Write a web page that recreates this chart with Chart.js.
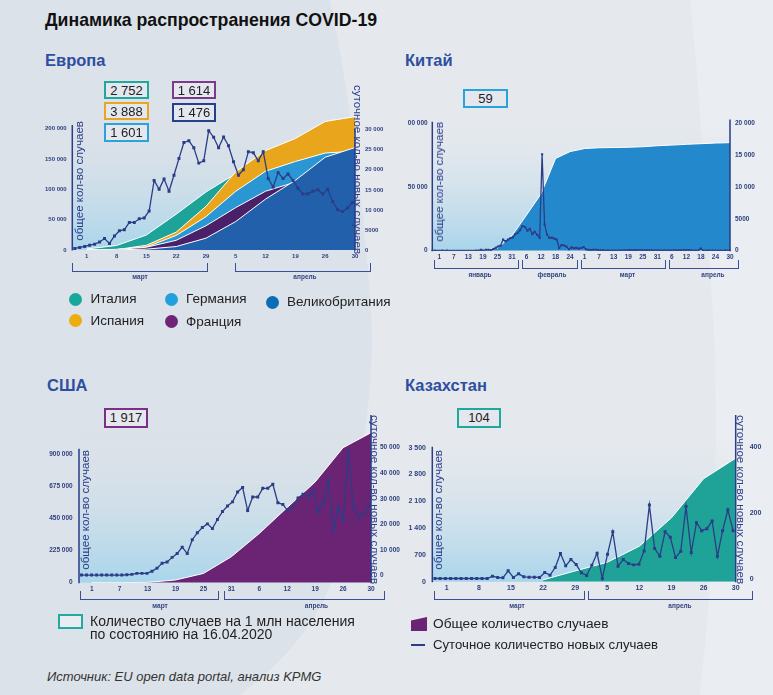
<!DOCTYPE html>
<html><head><meta charset="utf-8">
<script src="https://cdn.jsdelivr.net/npm/chart.js@4.4.1/dist/chart.umd.min.js"></script>
<style>
html,body{margin:0;padding:0}
body{width:773px;height:695px;overflow:hidden;background:#dce2e9;position:relative;font-family:"Liberation Sans",Arial,sans-serif}
.a{position:absolute}
.t{position:absolute;white-space:nowrap;line-height:1}
.h{font-weight:bold;font-size:16.5px;color:#2f4e9f}
.box{position:absolute;box-sizing:border-box;border:2px solid;background:#e4e8ee;font-size:13px;color:#222;text-align:center;line-height:15px}
.ttl{position:absolute;writing-mode:vertical-rl;font-size:11.6px;line-height:12px;width:12px;color:#2b3d8a;white-space:nowrap}
.up{transform:rotate(180deg)}
.br{position:absolute;box-sizing:border-box;border:1.5px solid #3c4f95;border-top:none}
.mo{position:absolute;font-size:6.5px;font-weight:bold;color:#34457f;line-height:1;white-space:nowrap;transform:translateX(-50%)}
.dot{position:absolute;width:13px;height:13px;border-radius:50%}
.lg{position:absolute;font-size:13.5px;color:#222;line-height:1;white-space:nowrap}
canvas{position:absolute}
</style></head>
<body>
<svg class="a" style="left:0;top:0" width="773" height="695">
  <path d="M330,0 L773,0 L773,695 L240,695 C300,650 335,600 350,520 C362,460 372,400 372,330 C368,250 355,120 330,0 Z" fill="#e5e9ee"/>
  <path d="M690,0 L773,0 L773,695 L700,695 C715,560 720,420 712,300 C705,200 700,90 690,0 Z" fill="#eaedf1"/>
</svg>

<div class="t" style="left:45px;top:11.5px;font-size:17.7px;font-weight:bold;color:#111">Динамика распространения COVID-19</div>
<div class="t h" style="left:45px;top:52px">Европа</div>
<div class="t h" style="left:405px;top:52px">Китай</div>
<div class="t h" style="left:47px;top:377px">США</div>
<div class="t h" style="left:405px;top:377px">Казахстан</div>

<canvas id="eu" width="360" height="170" style="left:40px;top:100px"></canvas>
<canvas id="cn" width="375" height="160" style="left:395px;top:110px"></canvas>
<canvas id="us" width="360" height="190" style="left:40px;top:410px"></canvas>
<canvas id="kz" width="378" height="190" style="left:395px;top:410px"></canvas>

<!-- value boxes -->
<div class="box" style="left:104px;top:81px;width:45px;height:18px;border-color:#21a89c">2 752</div>
<div class="box" style="left:104px;top:101.5px;width:45px;height:18.5px;border-color:#e8a623">3 888</div>
<div class="box" style="left:104px;top:122.5px;width:45px;height:19px;border-color:#2aa3dd">1 601</div>
<div class="box" style="left:172px;top:81px;width:44px;height:18px;border-color:#7b3a8c">1 614</div>
<div class="box" style="left:172px;top:102.5px;width:44px;height:19px;border-color:#24418f">1 476</div>
<div class="box" style="left:463px;top:89px;width:45px;height:19px;border-color:#2aa3dd">59</div>
<div class="box" style="left:104px;top:408px;width:44px;height:19.5px;border-color:#7b2f86">1 917</div>
<div class="box" style="left:457px;top:408px;width:44px;height:20px;border-color:#21a89c">104</div>

<!-- axis titles -->
<div class="ttl up" style="left:73px;top:121px">общее кол-во случаев</div>
<div class="ttl" style="left:352px;top:85px">суточное кол-во новых случаев</div>
<div class="ttl up" style="left:433px;top:122px">общее кол-во случаев</div>
<div class="ttl up" style="left:79px;top:450px">общее кол-во случаев</div>
<div class="ttl" style="left:369px;top:415px">суточное кол-во новых случаев</div>
<div class="ttl up" style="left:432px;top:450px">общее кол-во случаев</div>
<div class="ttl" style="left:734.5px;top:415px">суточное кол-во новых случаев</div>

<!-- month brackets -->
<div class="br" style="left:72px;top:263px;width:136px;height:9px"></div>
<div class="br" style="left:235px;top:263px;width:136px;height:9px"></div>
<div class="mo" style="left:140px;top:274px">март</div>
<div class="mo" style="left:305px;top:274px">апрель</div>

<div class="br" style="left:434px;top:260px;width:85px;height:8.5px"></div>
<div class="br" style="left:521.5px;top:260px;width:56.5px;height:8.5px"></div>
<div class="br" style="left:581px;top:260px;width:85px;height:8.5px"></div>
<div class="br" style="left:669px;top:260px;width:70px;height:8.5px"></div>
<div class="mo" style="left:480px;top:272px">январь</div>
<div class="mo" style="left:552px;top:272px">февраль</div>
<div class="mo" style="left:627.5px;top:272px">март</div>
<div class="mo" style="left:713px;top:272px">апрель</div>

<div class="br" style="left:80px;top:590.5px;width:138.5px;height:9px"></div>
<div class="br" style="left:224px;top:590.5px;width:161px;height:9px"></div>
<div class="mo" style="left:160px;top:603px">март</div>
<div class="mo" style="left:316.5px;top:603px">апрель</div>

<div class="br" style="left:434px;top:590.5px;width:150.5px;height:9px"></div>
<div class="br" style="left:588px;top:590.5px;width:164.5px;height:9px"></div>
<div class="mo" style="left:517px;top:603px">март</div>
<div class="mo" style="left:680px;top:603px">апрель</div>

<!-- Europe legend -->
<div class="dot" style="left:68.5px;top:292.5px;background:#17a899"></div>
<div class="lg" style="left:90.5px;top:292px">Италия</div>
<div class="dot" style="left:68.5px;top:314px;background:#eead0f"></div>
<div class="lg" style="left:90.5px;top:314px">Испания</div>
<div class="dot" style="left:165px;top:292.5px;background:#22a0dd"></div>
<div class="lg" style="left:186px;top:292px">Германия</div>
<div class="dot" style="left:165px;top:315px;background:#6e2479"></div>
<div class="lg" style="left:186px;top:315px">Франция</div>
<div class="dot" style="left:266px;top:295.5px;background:#0b6db5"></div>
<div class="lg" style="left:287px;top:295px">Великобритания</div>

<!-- bottom legends -->
<div class="a" style="left:58px;top:614px;width:25px;height:15px;box-sizing:border-box;border:2px solid #22aa9e;background:#e9edf2"></div>
<div class="lg" style="left:90px;top:614px;font-size:14px">Количество случаев на 1 млн населения</div>
<div class="lg" style="left:90px;top:627px;font-size:14px">по состоянию на 16.04.2020</div>
<div class="a" style="left:411px;top:617px;width:16px;height:14px;background:#6b2475;clip-path:polygon(0 25%,100% 0,100% 100%,0 100%)"></div>
<div class="lg" style="left:433px;top:617px;font-size:13.7px">Общее количество случаев</div>
<div class="a" style="left:411px;top:644px;width:14px;height:2px;background:#2b3f86"></div>
<div class="lg" style="left:433px;top:638px;font-size:13.2px">Суточное количество новых случаев</div>
<div class="lg" style="left:47px;top:670px;font-size:13px;font-style:italic;color:#333">Источник: EU open data portal, анализ KPMG</div>

<script>
// ===================== DATA =====================
// Европа: x-axis tick labels (weekly), totals sampled at those ticks, daily new cases
const euTickLabels = ['1','8','15','22','29','5','12','19','26','30'];
const euLeftTicks = [0, 50000, 100000, 150000, 200000];
const euLeftLabels = ['0','50 000','100 000','150 000','200 000'];
const euRightTicks = [0, 5000, 10000, 15000, 20000, 25000, 30000];
const euRightLabels = ['0','5000','10 000','15 000','20 000','25 000','30 000'];
const euItaly   = [1700, 7400, 24700, 59100, 95700, 126000, 156000, 175000, 195000, 203000];
const euSpain   = [100, 600, 7800, 29500, 72000, 129000, 164000, 184000, 212000, 220000];
const euGermany = [100, 900, 5000, 24000, 55000, 97000, 130000, 146000, 160000, 163000];
const euFrance  = [100, 1100, 4500, 16000, 40000, 70000, 97000, 112000, 124000, 129000];
const euUK      = [40, 300, 1400, 5700, 19500, 47000, 84000, 115000, 153000, 169000];
const euDaily = [400,650,900,1200,1450,2000,2850,1640,3500,4800,
  5070,6870,6870,7770,8000,9730,17340,15130,17740,14640,
  18640,22800,26820,27230,25510,21670,22240,29760,28130,25510,
  28210,26000,22000,18640,20040,24530,24280,22240,24530,17830,
  15700,19300,17830,18960,17340,15380,13980,14050,14640,15040,
  13980,15130,12090,10060,9570,10470,11850];

// Китай: ticks every 6 days (Jan 1 .. Apr 30), totals at ticks, daily from Dec 29 to Apr 30
const cnTickLabels = ['1','7','13','19','25','31','6','12','18','24','1','7','13','19','25','31','6','12','18','24','30'];
const cnLeftTicks = [0, 50000, 100000];
const cnLeftLabels = ['0','50 000','00 000'];
const cnRightTicks = [0, 5000, 10000, 15000, 20000];
const cnRightLabels = ['0','5000','10 000','15 000','20 000'];
const cnTotal = [null,null,null,200,2000,11800,28000,44600,72400,77800,80200,80800,81000,81200,81600,82400,82900,83500,84000,84500,84800];
const cnDaily = [0,27,0,
  0,17,0,15,0,0,0,0,0,0,0,0,0,0,0,4,17,136,19,151,140,97,259,441,665,787,1753,1466,1740,1980,2095,
  2590,2812,3237,3872,3727,3160,3418,2607,2974,2490,2028,15141,4156,2538,2007,2052,1890,1750,394,891,826,647,218,515,410,439,331,432,573,
  204,125,119,139,143,102,46,45,20,31,26,11,18,27,29,39,39,58,111,47,67,103,78,47,67,55,54,45,31,35,36,
  35,31,30,39,30,39,62,42,46,99,108,89,46,26,27,16,352,12,11,30,10,12,11,6,3,2,22,4,12];

// США: ticks, totals at ticks, daily
const usTickLabels = ['1','7','13','19','25','31','6','12','19','26','30'];
const usLeftTicks = [0, 225000, 450000, 675000, 900000];
const usLeftLabels = ['0','225 000','450 000','675 000','900 000'];
const usRightTicks = [0, 10000, 20000, 30000, 40000, 50000];
const usRightLabels = ['0','10 000','20 000','30 000','40 000','50 000'];
const usTotal = [70, 400, 2200, 19000, 65000, 182000, 345000, 527000, 706000, 946000, 1051000];
const usDaily = [200,200,200,200,200,200,200,200,200,300,
  450,850,850,850,1700,2900,4800,5300,7100,8600,
  11100,8600,14000,16700,18800,20200,18400,21900,25000,27200,
  28800,32700,34400,25400,30700,30700,34100,34100,35700,28500,
  27800,25200,26900,30300,31800,30900,33100,24700,28200,37500,
  17600,26600,21500,48900,26900,22500,24100,27300];

// Казахстан
const kzTickLabels = ['1','8','15','22','29','5','12','19','26','30'];
const kzLeftTicks = [0, 700, 1400, 2100, 2800, 3500];
const kzLeftLabels = ['0','700','1 400','2 100','2 800','3 500'];
const kzRightTicks = [0, 200, 400];
const kzRightLabels = ['0','200','400'];
const kzTotal = [null, null, null, 50, 284, 510, 930, 1670, 2690, 3225];
const kzDaily = [3,3,3,3,3,3,3,3,3,3,
  3,10,6,5,26,6,17,8,7,7,
  6,21,13,36,78,41,60,45,20,12,
  43,79,3,76,144,40,60,48,44,46,
  86,224,93,70,144,127,66,85,220,81,
  171,147,153,176,70,147,210,147];

// ===================== STYLE / BUILD =====================
const NAVY = '#2b3d86';
const TICKC = '#2d3f7e';
const FF = '"Liberation Sans", Arial, sans-serif';

const plotBg = {
  id: 'plotBg',
  beforeDatasetsDraw(chart) {
    const {ctx, chartArea: a} = chart;
    const g = ctx.createLinearGradient(0, a.bottom, 0, a.top);
    g.addColorStop(0, '#a8d5eb');
    g.addColorStop(1, 'rgba(220,226,233,0)');
    ctx.save(); ctx.fillStyle = g;
    ctx.fillRect(a.left, a.top, a.right - a.left, a.bottom - a.top);
    ctx.restore();
  }
};
const axisLines = {
  id: 'axisLines',
  afterDatasetsDraw(chart, args, o) {
    const {ctx, chartArea: a, scales} = chart;
    ctx.save(); ctx.strokeStyle = NAVY; ctx.lineWidth = 1.5; ctx.beginPath();
    ctx.moveTo(a.left, a.bottom + 0.5); ctx.lineTo(a.left, scales.y.getPixelForValue(o.leftTop));
    ctx.moveTo(a.right, a.bottom + 0.5); ctx.lineTo(a.right, scales.y2.getPixelForValue(o.rightTop));
    ctx.stroke(); ctx.restore();
  }
};

function areaDs(values, color) {
  return {
    data: values.map((v, i) => ({x: i, y: v})),
    xAxisID: 'x', yAxisID: 'y',
    backgroundColor: color, borderColor: '#ffffff', borderWidth: 1,
    fill: 'origin', pointRadius: 0, tension: 0
  };
}
function lineDs(values, r) {
  return {
    data: values, xAxisID: 'xl', yAxisID: 'y2',
    borderColor: NAVY, borderWidth: 1.3, fill: false, tension: 0,
    pointStyle: 'rect', pointRadius: r, pointBackgroundColor: NAVY, pointBorderWidth: 0
  };
}
function make(id, c) {
  const tickFont = {family: FF, size: c.fs, weight: 'bold'};
  return new Chart(document.getElementById(id), {
    type: 'line',
    data: {datasets: c.datasets},
    options: {
      responsive: false, animation: false, devicePixelRatio: 1,
      layout: {padding: {top: c.padTop, left: 0, right: 0, bottom: 0}, autoPadding: false},
      plugins: {legend: {display: false}, tooltip: {enabled: false}, axisLines: {leftTop: c.leftTop, rightTop: c.rightTop}},
      scales: {
        x: {
          type: 'linear', position: 'bottom', min: c.xmin, max: c.xticks.length - 1,
          afterBuildTicks: s => { s.ticks = c.xticks.map((_, i) => ({value: i})); },
          afterFit: s => { s.height = c.xH; },
          ticks: {callback: (v, i) => c.xticks[i], font: tickFont, color: TICKC, padding: c.xPad, maxRotation: 0, autoSkip: false},
          grid: {display: false, drawTicks: false}, border: {display: false}
        },
        xl: {type: 'category', labels: c.lineLabels, display: false, offset: c.offset},
        y: {
          type: 'linear', position: 'left', min: 0, max: c.ymax,
          afterBuildTicks: s => { s.ticks = c.yticks.map(v => ({value: v})); },
          afterFit: s => { s.width = c.yW; },
          ticks: {callback: (v, i) => c.ylabels[i], font: tickFont, color: TICKC, padding: c.yPad, autoSkip: false},
          grid: {display: false, drawTicks: false}, border: {display: false}
        },
        y2: {
          type: 'linear', position: 'right', min: c.y2min, max: c.y2max,
          afterBuildTicks: s => { s.ticks = c.y2ticks.map(v => ({value: v})); },
          afterFit: s => { s.width = c.y2W; },
          ticks: {callback: (v, i) => c.y2labels[i], font: tickFont, color: TICKC, padding: c.y2Pad, autoSkip: false},
          grid: {display: false, drawTicks: false}, border: {display: false}
        }
      }
    },
    plugins: [plotBg, axisLines]
  });
}

make('eu', {
  datasets: [lineDs(euDaily, 2.1), areaDs(euUK, '#2360ab'), areaDs(euFrance, '#4a2068'),
             areaDs(euGermany, '#2b96d4'), areaDs(euSpain, '#e9a61d'), areaDs(euItaly, '#1ea398')],
  lineLabels: euDaily.map((_, i) => String(i + 1)), offset: true,
  xticks: euTickLabels, xmin: -0.486, xH: 20, xPad: 3,
  yticks: euLeftTicks, ylabels: euLeftLabels, ymax: 225000, yW: 32.3, yPad: 5.6,
  y2ticks: euRightTicks, y2labels: euRightLabels, y2min: 0, y2max: 34020, y2W: 45, y2Pad: 10,
  padTop: 11.3, fs: 6, leftTop: 206000, rightTop: 30200
});
make('cn', {
  datasets: [lineDs(cnDaily, 1.5), areaDs(cnTotal, '#2489cc')],
  lineLabels: cnDaily.map((_, i) => String(i + 1)), offset: false,
  xticks: cnTickLabels, xmin: -0.48, xH: 19.3, xPad: 3,
  yticks: cnLeftTicks, ylabels: cnLeftLabels, ymax: 100000, yW: 37.3, yPad: 4.6,
  y2ticks: cnRightTicks, y2labels: cnRightLabels, y2min: 0, y2max: 20000, y2W: 40, y2Pad: 5,
  padTop: 13.3, fs: 6.5, leftTop: 101300, rightTop: 20600
});
make('us', {
  datasets: [lineDs(usDaily, 2.1), areaDs(usTotal, '#6b2474')],
  lineLabels: usDaily.map((_, i) => String(i + 1)), offset: true,
  xticks: usTickLabels, xmin: -0.455, xH: 17.3, xPad: 2.6,
  yticks: usLeftTicks, ylabels: usLeftLabels, ymax: 1070000, yW: 39, yPad: 6.3,
  y2ticks: usRightTicks, y2labels: usRightLabels, y2min: -2800, y2max: 56900, y2W: 29, y2Pad: 9,
  padTop: 20, fs: 6.5, leftTop: 939000, rightTop: 62800
});
make('kz', {
  datasets: [lineDs(kzDaily, 2.1), areaDs(kzTotal, '#1fa398')],
  lineLabels: kzDaily.map((_, i) => String(i + 1)), offset: true,
  xticks: kzTickLabels, xmin: -0.449, xH: 17.3, xPad: 2,
  yticks: kzLeftTicks, ylabels: kzLeftLabels, ymax: 3700, yW: 37.3, yPad: 6.3,
  y2ticks: kzRightTicks, y2labels: kzRightLabels, y2min: -7, y2max: 420, y2W: 37.3, y2Pad: 14,
  padTop: 30, fs: 7, leftTop: 3526, rightTop: 495
});
</script>
</body></html>
